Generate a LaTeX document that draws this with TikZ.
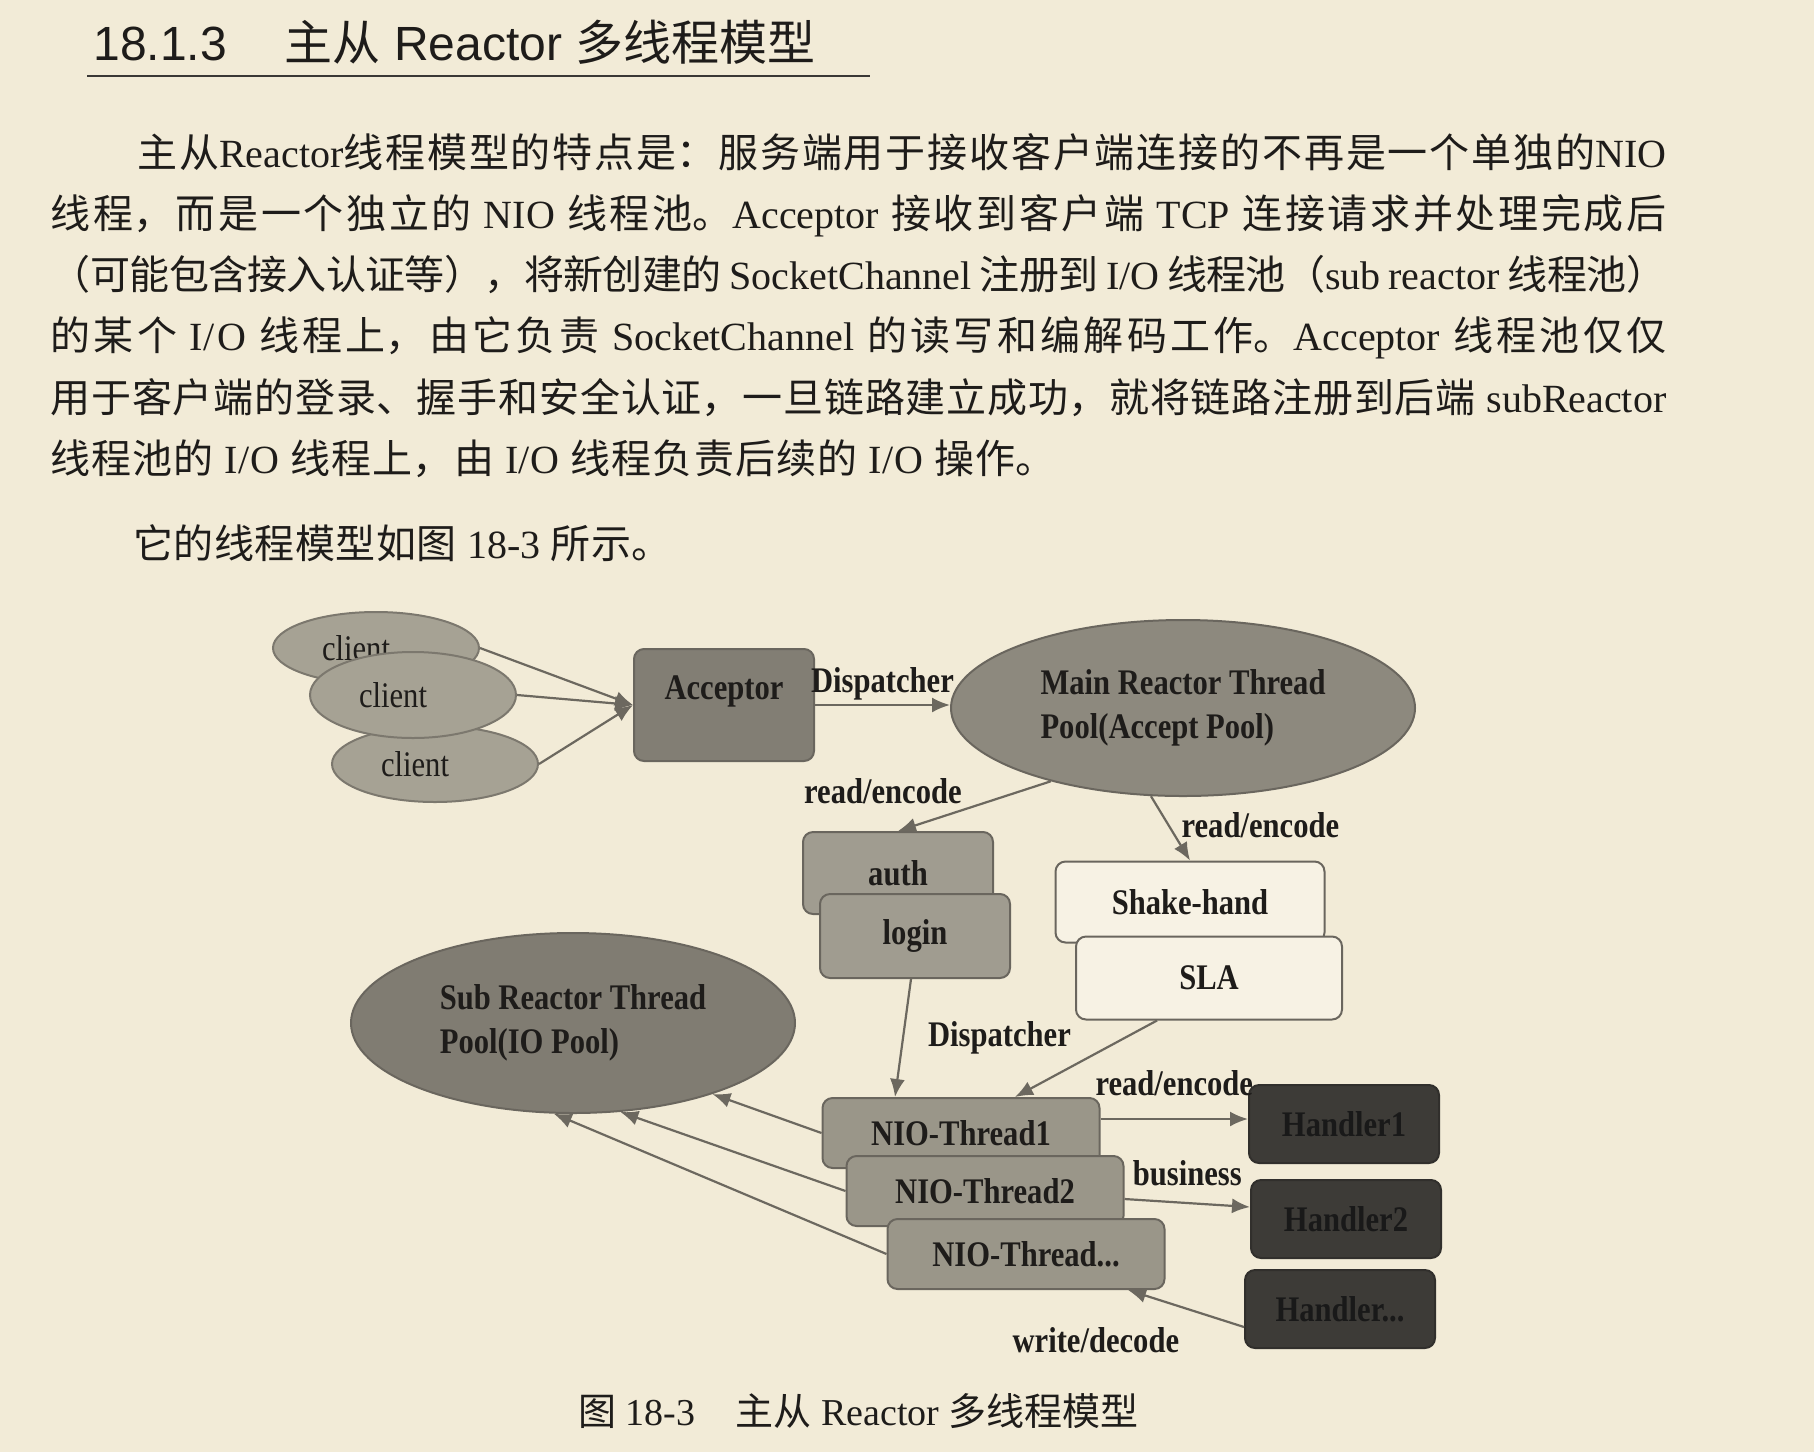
\documentclass[tikz,border=0pt]{standalone}
\usepackage{fontspec}
\setmainfont{Liberation Serif}
\newfontfamily\zhfont{Noto Sans CJK SC}
\newfontfamily\titlefont{Liberation Sans}
\newfontfamily\dgfont[FakeStretch=0.85]{Liberation Serif}
\usetikzlibrary{arrows.meta,shapes.geometric}
% cortes entre caracteres chinos, sin salto de linea
\XeTeXlinebreaklocale "zh"
\XeTeXlinebreakskip=0pt plus 3pt minus 0.6pt
\XeTeXlinebreakpenalty=10000
\hyphenpenalty=10000
\exhyphenpenalty=10000
\tolerance=10000
\pretolerance=10000
\newcommand{\zh}[1]{{\zhfont #1}}
\definecolor{pagebg}{HTML}{F2EBD7}
\definecolor{tinta}{HTML}{1E1C1A}
\definecolor{raya}{HTML}{3A3835}
\definecolor{gris}{HTML}{6C685F}
\definecolor{clfill}{HTML}{A6A294}
\definecolor{clborde}{HTML}{7C786E}
\definecolor{accfill}{HTML}{827E74}
\definecolor{mainfill}{HTML}{8D897E}
\definecolor{subfill}{HTML}{807C72}
\definecolor{authfill}{HTML}{A09C90}
\definecolor{niofill}{HTML}{9A9689}
\definecolor{handfill}{HTML}{3D3B37}
\definecolor{shakefill}{HTML}{F7F2E4}
\definecolor{borde}{HTML}{6A665E}

\begin{document}
\begin{tikzpicture}[x=0.5pt,y=-0.5pt,
    cuerpo/.style={anchor=base west, inner sep=0pt, text=tinta, font=\fontsize{20}{24}\selectfont},
    linea/.style={cuerpo, text width=808pt, align=justify},
    flecha/.style={draw=gris, line width=1.1pt, -{Latex[length=9pt,width=7.5pt]}},
    etiqueta/.style={inner sep=2pt, text=tinta, font=\dgfont\bfseries\fontsize{18}{20}\selectfont},
    cliente/.style={ellipse, draw=clborde, fill=clfill, line width=1pt, minimum width=103pt,
        inner sep=0pt, text=tinta, font=\dgfont\fontsize{18}{20}\selectfont},
    nube/.style={ellipse, draw=borde, line width=1pt, inner sep=0pt, align=left,
        text=tinta, font=\dgfont\bfseries\fontsize{18}{22}\selectfont},
    caja/.style={rounded corners=5pt, draw=borde, line width=1pt, inner sep=0pt,
        text=tinta, font=\dgfont\bfseries\fontsize{18}{20}\selectfont},
    hilo/.style={caja, fill=niofill, minimum width=138.5pt, minimum height=35pt},
    manejador/.style={caja, fill=handfill, draw=handfill!80!black, text=black!90,
        minimum width=95pt, minimum height=39pt}]

    % Pagina
    \fill[pagebg] (0,0) rectangle (1814,1452);

    % Titulo
    \node[anchor=base west, inner sep=0pt, text=tinta, font=\titlefont\fontsize{24}{28}\selectfont]
        (titulo) at (93,60) {18.1.3\hspace{29pt}\zh{主从} Reactor \zh{多线程模型}};
    \draw[raya, line width=1.2pt] (87,76) -- (870,76);

    % Texto
    \node[linea, text width=764.5pt] (l1) at (137,167) {\parfillskip=0pt\relax
        \zh{主从}Reactor\zh{线程模型的特点是：服务端用于接收客户端连接的不再是一个单独的}NIO\par};
    \node[linea] (l2) at (50,228) {\parfillskip=0pt\relax
        \zh{线程，而是一个独立的}~NIO~\zh{线程池。}Acceptor~\zh{接收到客户端}~TCP~\zh{连接请求并处理完成后}\par};
    \node[linea] (l3) at (50,289) {\parfillskip=0pt\relax
        \zh{（可能包含接入认证等），将新创建的}~SocketChannel~\zh{注册到}~I/O~\zh{线程池（}sub~reactor~\zh{线程池）}\par};
    \node[linea] (l4) at (50,350) {\parfillskip=0pt\relax
        \zh{的某个}~I/O~\zh{线程上，由它负责}~SocketChannel~\zh{的读写和编解码工作。}Acceptor~\zh{线程池仅仅}\par};
    \node[linea] (l5) at (50,412) {\parfillskip=0pt\relax
        \zh{用于客户端的登录、握手和安全认证，一旦链路建立成功，就将链路注册到后端}~subReactor\par};
    \node[linea, text width=502.5pt] (l6) at (50,473) {\parfillskip=0pt\relax
        \zh{线程池的}~I/O~\zh{线程上，由}~I/O~\zh{线程负责后续的}~I/O~\zh{操作。}\par};
    \node[linea, text width=269pt] (l7) at (133,558) {\parfillskip=0pt\relax
        \zh{它的线程模型如图}~18-3~\zh{所示。}\par};

    % Clientes
    \node[cliente, minimum height=36pt] (cl1) at (376,648) {client\hspace*{20pt}};
    \node[cliente, minimum height=38pt] (cl3) at (435,764) {client\hspace*{20pt}};
    \node[cliente, minimum height=43pt] (cl2) at (413,695) {client\hspace*{20pt}};

    % Acceptor y reactores
    \node[caja, fill=accfill, minimum width=90pt, minimum height=56pt] (acceptor) at (724,705)
        {\raisebox{7pt}[\height][\depth]{Acceptor}};
    \node[nube, fill=mainfill, minimum width=232pt, minimum height=88pt] (mainr) at (1183,708)
        {Main Reactor Thread\\Pool(Accept Pool)};
    \node[nube, fill=subfill, minimum width=222pt, minimum height=90pt] (subr) at (573,1023)
        {Sub Reactor Thread\\Pool(IO Pool)};

    % auth / login
    \node[caja, fill=authfill, minimum width=95pt, minimum height=41pt] (auth) at (898,873) {auth};
    \node[caja, fill=authfill, minimum width=95pt, minimum height=42pt] (login) at (915,936) {login};

    % Shake-hand / SLA
    \node[caja, fill=shakefill, minimum width=134.5pt, minimum height=40.5pt] (shake) at (1190,902) {Shake-hand};
    \node[caja, fill=shakefill, minimum width=133pt, minimum height=41.5pt] (sla) at (1209,978) {SLA};

    % Hilos NIO
    \node[hilo] (nio1) at (961,1133) {NIO-Thread1};
    \node[hilo] (nio2) at (985,1191) {NIO-Thread2};
    \node[hilo] (nio3) at (1026,1254) {NIO-Thread...};

    % Handlers
    \node[manejador] (h1) at (1344,1124) {Handler1};
    \node[manejador] (h2) at (1346,1219) {Handler2};
    \node[manejador] (h3) at (1340,1309) {Handler...};

    % Flechas
    \draw[flecha] (cl1.east) -- (acceptor.west);
    \draw[flecha] (cl2.east) -- (acceptor.west);
    \draw[flecha] (cl3.east) -- (acceptor.west);
    \draw[flecha] (acceptor.east) -- (acceptor.east -| mainr.west)
        node[etiqueta, midway, above] (disp1) {Dispatcher};
    \draw[flecha] (mainr.209) -- (auth.north)
        node[etiqueta, pos=0.55, anchor=south east] (re1) {read/encode};
    \draw[flecha] (mainr.250) -- (shake.north)
        node[etiqueta, pos=0.45, anchor=west, xshift=4pt] (re2) {read/encode};
    \draw[flecha] ([xshift=-2pt]login.south) -- ([xshift=-33pt]nio1.north)
        node[etiqueta, midway, right, xshift=10pt] (disp2) {Dispatcher};
    \draw[flecha] ([xshift=-26pt]sla.south) -- ([xshift=27pt]nio1.north);
    \draw[flecha] ([yshift=7pt]nio1.east) -- ([yshift=7pt]nio1.east -| h1.west)
        node[etiqueta, midway, above, yshift=9pt] (re3) {read/encode};
    \draw[flecha] ([yshift=-4pt]nio2.east) -- ([yshift=6pt]h2.west)
        node[etiqueta, midway, above, yshift=6pt] (bus) {business};
    \draw[flecha] ([yshift=-9pt]h3.west) -- ([xshift=51pt]nio3.south)
        node[etiqueta, pos=0.55, below left, yshift=-8pt, xshift=2pt] (wd) {write/decode};
    \draw[flecha] (nio1.west) -- (subr.-27);
    \draw[flecha] (nio2.west) -- (subr.-62);
    \draw[flecha] (nio3.west) -- (subr.-102);

    % Pie de figura
    \node[anchor=base west, inner sep=0pt, text=tinta, font=\fontsize{19}{22}\selectfont]
        (pie) at (578,1425) {\zh{图} 18-3\hspace{20pt}\zh{主从} Reactor \zh{多线程模型}};
\end{tikzpicture}
\end{document}
